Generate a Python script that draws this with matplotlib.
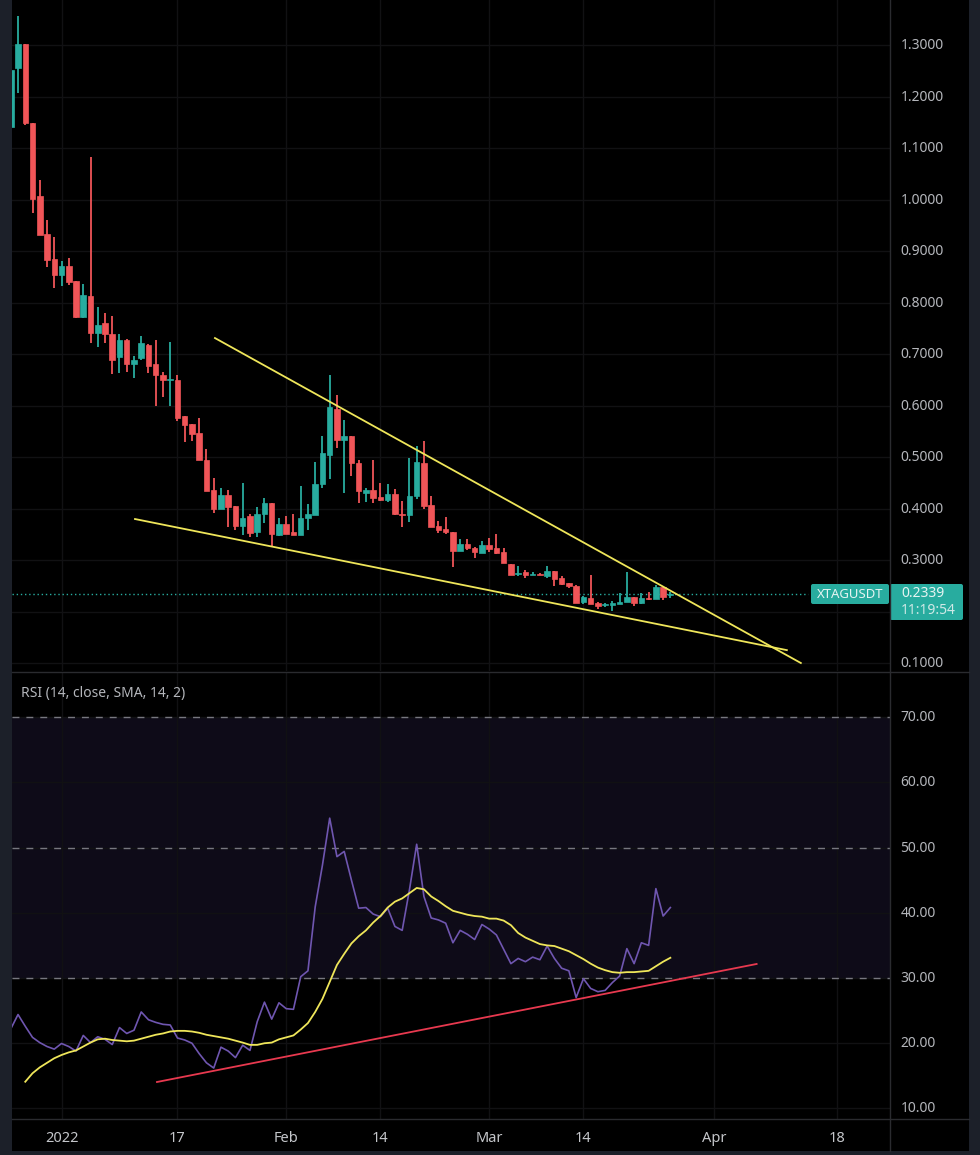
import matplotlib
matplotlib.use("Agg")
import matplotlib.pyplot as plt
import numpy as np
from matplotlib.patches import FancyBboxPatch, Rectangle
from matplotlib.transforms import ScaledTranslation

# Daily candles, first bar is 25 Dec 2021 (day -7 counted from 1 Jan 2022)
opens = [
    1.141, 1.255, 1.302, 1.148, 1.007, 0.933, 0.884, 0.853, 0.871, 0.842,
    0.772, 0.813, 0.741, 0.760, 0.739, 0.694, 0.727, 0.681, 0.692, 0.717,
    0.680, 0.660, 0.649, 0.649, 0.579, 0.564, 0.546, 0.494, 0.436, 0.399,
    0.426, 0.404, 0.366, 0.385, 0.355, 0.390, 0.411, 0.348, 0.370, 0.354,
    0.349, 0.381, 0.387, 0.447, 0.504, 0.593, 0.533, 0.541, 0.489, 0.431,
    0.435, 0.423, 0.416, 0.428, 0.389, 0.387, 0.424, 0.489, 0.406, 0.366,
    0.361, 0.354, 0.318, 0.332, 0.323, 0.314, 0.330, 0.323, 0.316, 0.292,
    0.272, 0.276, 0.271, 0.273, 0.268, 0.279, 0.266, 0.255, 0.250, 0.218,
    0.227, 0.216, 0.212, 0.212, 0.215, 0.218, 0.229, 0.216, 0.227, 0.224,
    0.248, 0.2325,
]
highs = [
    1.251, 1.356, 1.302, 1.148, 1.038, 0.960, 0.927, 0.881, 0.886, 0.842,
    0.836, 1.0835, 0.791, 0.780, 0.774, 0.739, 0.729, 0.696, 0.735, 0.719,
    0.727, 0.666, 0.724, 0.660, 0.579, 0.564, 0.576, 0.515, 0.460, 0.439,
    0.436, 0.404, 0.450, 0.389, 0.402, 0.421, 0.411, 0.382, 0.385, 0.389,
    0.444, 0.408, 0.491, 0.540, 0.660, 0.621, 0.571, 0.541, 0.494, 0.439,
    0.494, 0.450, 0.447, 0.437, 0.414, 0.499, 0.521, 0.531, 0.424, 0.376,
    0.383, 0.354, 0.340, 0.340, 0.326, 0.336, 0.342, 0.350, 0.324, 0.292,
    0.289, 0.281, 0.277, 0.274, 0.289, 0.279, 0.268, 0.255, 0.251, 0.230,
    0.270, 0.219, 0.217, 0.221, 0.235, 0.277, 0.229, 0.235, 0.237, 0.251,
    0.249, 0.237,
]
lows = [
    1.141, 1.207, 1.145, 0.974, 0.931, 0.869, 0.828, 0.832, 0.834, 0.770,
    0.770, 0.721, 0.714, 0.721, 0.661, 0.663, 0.665, 0.653, 0.688, 0.663,
    0.599, 0.616, 0.599, 0.570, 0.530, 0.531, 0.494, 0.434, 0.392, 0.399,
    0.364, 0.359, 0.348, 0.345, 0.345, 0.371, 0.327, 0.347, 0.351, 0.349,
    0.349, 0.358, 0.387, 0.439, 0.458, 0.518, 0.431, 0.463, 0.410, 0.413,
    0.410, 0.414, 0.413, 0.387, 0.364, 0.373, 0.419, 0.400, 0.364, 0.353,
    0.351, 0.287, 0.318, 0.319, 0.303, 0.313, 0.316, 0.312, 0.294, 0.270,
    0.269, 0.266, 0.270, 0.270, 0.265, 0.249, 0.251, 0.246, 0.216, 0.214,
    0.214, 0.204, 0.209, 0.201, 0.215, 0.218, 0.211, 0.214, 0.222, 0.224,
    0.222, 0.226,
]
closes = [
    1.251, 1.302, 1.148, 1.001, 0.931, 0.883, 0.853, 0.871, 0.840, 0.772,
    0.815, 0.741, 0.756, 0.739, 0.688, 0.727, 0.681, 0.688, 0.721, 0.677,
    0.660, 0.649, 0.651, 0.576, 0.562, 0.544, 0.494, 0.434, 0.399, 0.427,
    0.402, 0.367, 0.382, 0.353, 0.390, 0.411, 0.350, 0.370, 0.351, 0.349,
    0.381, 0.390, 0.447, 0.508, 0.597, 0.533, 0.540, 0.489, 0.434, 0.436,
    0.421, 0.416, 0.429, 0.390, 0.388, 0.424, 0.491, 0.404, 0.364, 0.358,
    0.354, 0.318, 0.332, 0.323, 0.315, 0.330, 0.321, 0.314, 0.294, 0.270,
    0.274, 0.271, 0.273, 0.271, 0.279, 0.264, 0.253, 0.250, 0.217, 0.228,
    0.214, 0.211, 0.215, 0.217, 0.219, 0.229, 0.216, 0.226, 0.225, 0.248,
    0.229, 0.2339,
]

rsi_values = [
    22.2, 24.4, 22.6, 20.9, 20.1, 19.5, 19.1, 19.96, 19.5, 18.8,
    21.2, 20.1, 21.0, 20.6, 19.8, 22.4, 21.5, 22.0, 24.8, 23.6,
    23.2, 22.9, 22.8, 20.8, 20.5, 20.0, 18.4, 17.0, 16.2, 19.4,
    18.8, 17.8, 19.7, 18.9, 23.3, 26.3, 23.7, 26.2, 25.3, 25.2,
    30.2, 31.1, 40.9, 47.3, 54.5, 48.6, 49.4, 45.0, 40.7, 40.8,
    39.8, 39.4, 40.7, 37.9, 37.3, 43.5, 50.5, 42.5, 39.2, 38.9,
    38.4, 35.4, 37.3, 36.7, 35.9, 38.2, 37.5, 36.6, 34.4, 32.2,
    33.0, 32.5, 33.2, 32.8, 34.9, 33.0, 31.5, 31.1, 27.0, 29.9,
    28.4, 27.9, 28.1, 29.3, 30.3, 34.5, 32.2, 35.4, 35.0, 43.7,
    39.5, 40.8,
]
# RSI moving average starts two bars later
rsi_ma = [
    14.1, 15.4, 16.3, 17.0, 17.7, 18.2, 18.6, 18.9, 19.5, 20.1,
    20.6, 20.7, 20.5, 20.4, 20.3, 20.4, 20.7, 21.0, 21.3, 21.5,
    21.8, 21.9, 21.9, 21.8, 21.6, 21.3, 21.1, 20.9, 20.7, 20.4,
    20.1, 19.75, 19.75, 20.0, 20.1, 20.6, 20.9, 21.2, 22.1, 23.1,
    24.8, 26.8, 29.4, 32.0, 33.7, 35.3, 36.4, 37.3, 38.5, 39.5,
    40.8, 41.7, 42.2, 43.0, 43.8, 43.6, 42.5, 41.8, 41.0, 40.3,
    40.0, 39.7, 39.5, 39.4, 39.1, 39.1, 38.8, 38.1, 36.9, 36.2,
    35.7, 35.2, 35.0, 34.9, 34.5, 34.1, 33.5, 32.9, 32.2, 31.6,
    31.2, 30.9, 30.8, 30.9, 30.9, 31.0, 31.1, 31.8, 32.5, 33.1,
]

# Hand drawn trendlines: (day, value) pairs
upper_line_x = [21.17, 102.0]
upper_line_y = [0.731, 0.100]
lower_line_x = [10.14, 100.07]
lower_line_y = [0.3796, 0.125]
rsi_line_x = [13.17, 95.9]
rsi_line_y = [14.06, 32.15]

time_ticks = [0, 16, 31, 44, 59, 72, 90, 107]
time_labels = ["2022", "17", "Feb", "14", "Mar", "14", "Apr", "18"]
price_ticks = [0.1, 0.2, 0.3, 0.4, 0.5, 0.6, 0.7, 0.8, 0.9, 1.0, 1.1, 1.2, 1.3]
price_labels = ["0.1000", "", "0.3000", "0.4000", "0.5000", "0.6000", "0.7000",
                "0.8000", "0.9000", "1.0000", "1.1000", "1.2000", "1.3000"]
rsi_ticks = [10, 20, 30, 40, 50, 60, 70]
rsi_labels = ["10.00", "20.00", "30.00", "40.00", "50.00", "60.00", "70.00"]
last_price = 0.2339

UP = "#28ac9f"
DOWN = "#f05558"
TEXT = "#b4b6bb"
GRID = "#111113"
SEP = "#2a2b2f"
YELLOW = "#efe65a"

W, H = 980, 1155
plt.rcParams["font.family"] = ["Noto Sans", "DejaVu Sans"]
fig = plt.figure(figsize=(W / 100, H / 100), dpi=100, facecolor="#1c2029")


def add_pixel_axes(left, top, right, bottom):
    return fig.add_axes([left / W, 1 - bottom / H, (right - left) / W, (bottom - top) / H])


# black panel behind the whole chart, uses pixel coordinates
panel = add_pixel_axes(0, 0, W, H)
panel.set_xlim(0, W)
panel.set_ylim(H, 0)
panel.axis("off")
panel.add_patch(Rectangle((12, 0), 957, 1151, color="black", lw=0))

ax = add_pixel_axes(12, 0, 890, 671)
ax_rsi = add_pixel_axes(12, 672, 890, 1119)
xlim = (-6.83, 114.3)

for a in (ax, ax_rsi):
    a.set_facecolor("none")
    a.set_xlim(*xlim)
    a.set_xticks(time_ticks)
    a.yaxis.tick_right()
    a.tick_params(length=0, labelsize=10, labelcolor=TEXT, pad=7.5)
    a.grid(True, color=GRID, lw=1)
    a.set_axisbelow(True)
    for spine in a.spines.values():
        spine.set_visible(False)

# Price pane
days = np.arange(len(closes)) - 7
o, h, l, c = map(np.array, (opens, highs, lows, closes))
colors = np.where(c >= o, UP, DOWN)
ax.set_ylim(0.0845, 1.3874)
ax.set_yticks(price_ticks)
ax.set_yticklabels(price_labels)
ax.set_xticklabels([])
ax.vlines(days, l, h, colors=colors, lw=1.3, zorder=2)
ax.bar(days, np.abs(c - o), bottom=np.minimum(o, c), width=0.76, color=colors,
       edgecolor=colors, lw=0.5, zorder=3)
ax.plot([xlim[0], 103], [last_price, last_price], color=UP, lw=1, ls=(0, (1, 2)), zorder=1)
ax.plot(upper_line_x, upper_line_y, color=YELLOW, lw=1.3, zorder=4)
ax.plot(lower_line_x, lower_line_y, color=YELLOW, lw=1.3, zorder=4)

# RSI pane
ax_rsi.set_ylim(8.39, 76.9)
ax_rsi.set_yticks(rsi_ticks)
ax_rsi.set_yticklabels(rsi_labels)
ax_rsi.set_xticklabels(time_labels, fontsize=10.5, color="#c4c6ca")
ax_rsi.tick_params(axis="x", pad=8.5)
ax_rsi.axhspan(30, 70, color="#0e0b18", lw=0, zorder=0)
for level in (70, 50, 30):
    ax_rsi.axhline(level, color="#77777f", lw=1, ls=(0, (5, 5)), zorder=1)
ax_rsi.plot(days, rsi_values, color="#6f56b0", lw=1.2, zorder=3)
ax_rsi.plot(days[2:], rsi_ma, color=YELLOW, lw=1.3, zorder=4)
ax_rsi.plot(rsi_line_x, rsi_line_y, color="#e8394f", lw=1.3, zorder=5)

# nudge the axis labels up a little
nudge = ScaledTranslation(0, 1.5 / 100, fig.dpi_scale_trans)
for a in (ax, ax_rsi):
    for label in a.get_yticklabels():
        label.set_transform(label.get_transform() + nudge)

# Pane separators and last price labels, in pixels
top_panel = add_pixel_axes(0, 0, W, H)
top_panel.set_xlim(0, W)
top_panel.set_ylim(H, 0)
top_panel.axis("off")
top_panel.patch.set_alpha(0)
top_panel.plot([12, 969], [671.5, 671.5], color=SEP, lw=1)
top_panel.plot([12, 969], [1119, 1119], color=SEP, lw=1)
top_panel.plot([890, 890], [0, 1151], color=SEP, lw=1)
for x0, y0, bw, bh in [(811, 584, 78, 20), (890, 584, 73, 36)]:
    top_panel.add_patch(FancyBboxPatch((x0 + 1, y0 + 1), bw - 2, bh - 2,
                                       boxstyle="round,pad=1,rounding_size=2",
                                       color=UP, lw=0))
top_panel.text(850, 594, "XTAGUSDT", color="#e6f4f2", fontsize=9.5, ha="center", va="center")
top_panel.text(901, 593.5, f"{last_price:.4f}", color="#e6f4f2", fontsize=10, va="center")
top_panel.text(901, 610.5, "11:19:54", color="#cfe9e6", fontsize=10, va="center")
top_panel.text(21, 693, "RSI (14, close, SMA, 14, 2)", color=TEXT, fontsize=10, va="center")

fig.savefig("out.png", dpi=100, facecolor=fig.get_facecolor())
